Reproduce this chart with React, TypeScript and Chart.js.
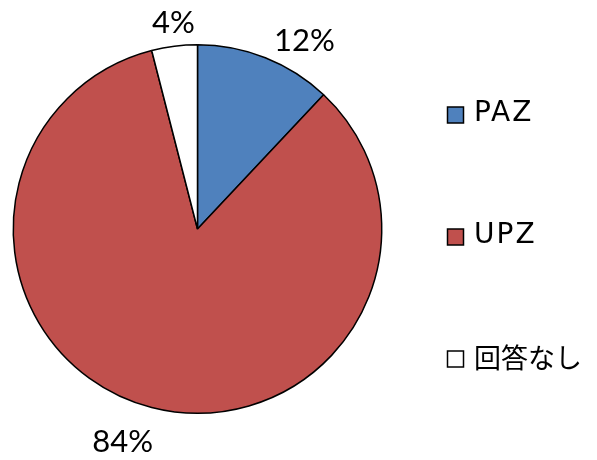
import React, { useEffect, useRef } from "react";
import Chart from "chart.js/auto";

const categories = ["PAZ", "UPZ", "回答なし"];
const values = [12, 84, 4];
const percentLabels = ["12%", "84%", "4%"];
const colors = ["#4F81BD", "#C0504D", "#FFFFFF"];
// label offsets (px) from the outer edge at each slice's mid angle
const labelOffsets = [
  [39, -17],
  [-29, 35],
  [-1, -23],
];
const legendRows = [115, 237, 359];

export default function App() {
  const ref = useRef<HTMLCanvasElement>(null);
  useEffect(() => {
    const canvas = ref.current!;
    const overlay = {
      id: "overlay",
      afterDraw(chart: any) {
        const ctx = chart.ctx;
        const meta = chart.getDatasetMeta(0);
        ctx.save();
        ctx.fillStyle = "#000";
        ctx.font = "31px Lato";
        ctx.textAlign = "center";
        ctx.textBaseline = "middle";
        meta.data.forEach((arc: any, i: number) => {
          const p = arc.getProps(["x", "y", "startAngle", "endAngle", "outerRadius"], true);
          const mid = (p.startAngle + p.endAngle) / 2;
          const ex = p.x + Math.cos(mid) * p.outerRadius;
          const ey = p.y + Math.sin(mid) * p.outerRadius;
          ctx.fillText(percentLabels[i], ex + labelOffsets[i][0], ey + labelOffsets[i][1]);
        });
        // legend
        ctx.textAlign = "left";
        categories.forEach((c, i) => {
          const y = legendRows[i];
          ctx.fillStyle = colors[i];
          ctx.fillRect(447.5, y - 8, 16, 16);
          ctx.strokeStyle = "#000";
          ctx.lineWidth = 1.5;
          ctx.strokeRect(447.5, y - 8, 16, 16);
          ctx.fillStyle = "#000";
          ctx.font = i === 2 ? "27px 'Noto Sans CJK JP'" : "28px 'DejaVu Sans'";
          (ctx as any).letterSpacing = i === 2 ? "0px" : "2px";
          ctx.fillText(c, 474, y - 1);
        });
        ctx.restore();
      },
    };
    const chart = new Chart(canvas, {
      type: "pie",
      data: {
        labels: categories,
        datasets: [
          {
            data: values,
            backgroundColor: colors,
            borderColor: "#000",
            borderWidth: 1.5,
          },
        ],
      },
      options: {
        responsive: false,
        animation: false,
        layout: { padding: { left: 12, top: 44, right: 214, bottom: 46 } },
        plugins: { legend: { display: false }, tooltip: { enabled: false } },
      },
      plugins: [overlay],
    });
    return () => chart.destroy();
  }, []);
  return (
    <div style={{ position: "absolute", left: 0, top: 0, width: 597, height: 460, background: "#fff" }}>
      <canvas ref={ref} width={597} height={460} />
    </div>
  );
}
